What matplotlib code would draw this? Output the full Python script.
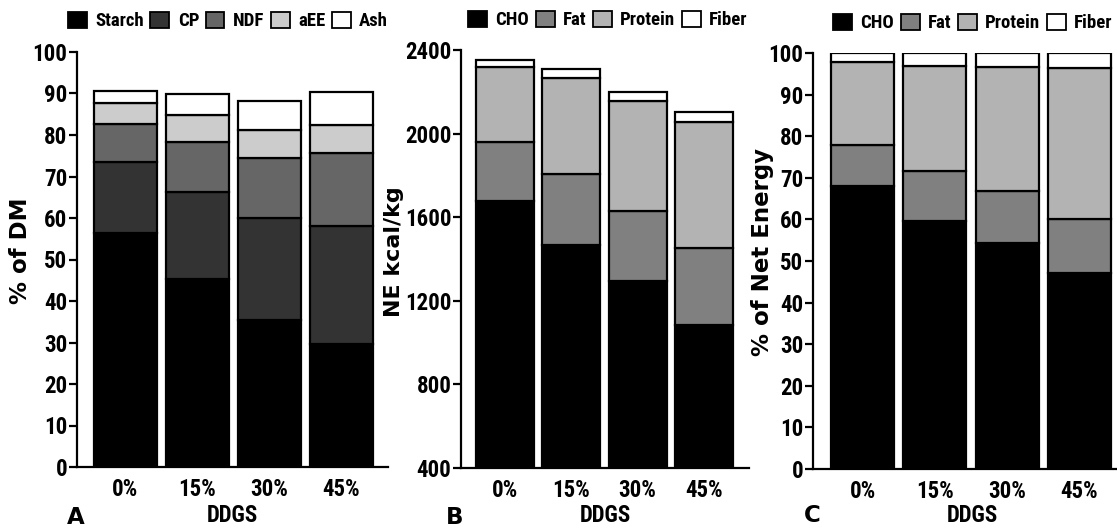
import matplotlib
matplotlib.use("Agg")
import matplotlib.pyplot as plt
from matplotlib.patches import Patch
import numpy as np

# ---------------- data ----------------
groups = ["0%", "15%", "30%", "45%"]
xlabel = "DDGS"

# Panel A: % of DM
a_labels = ["Starch", "CP", "NDF", "aEE", "Ash"]
a_starch = [56.5, 45.3, 35.4, 29.6]
a_cp = [17.0, 21.0, 24.6, 28.5]
a_ndf = [9.1, 12.0, 14.4, 17.5]
a_aee = [5.1, 6.5, 6.8, 6.8]
a_ash = [2.9, 5.1, 7.0, 8.0]
a_ticks = [0, 10, 20, 30, 40, 50, 60, 70, 80, 90, 100]

# Panel B: NE kcal/kg
b_labels = ["CHO", "Fat", "Protein", "Fiber"]
b_cho = [1678, 1467, 1295, 1084]
b_fat = [282, 340, 335, 368]
b_protein = [359, 459, 526, 604]
b_fiber = [33, 43, 43, 49]
b_ticks = [400, 800, 1200, 1600, 2000, 2400]

# Panel C: % of Net Energy
c_labels = ["CHO", "Fat", "Protein", "Fiber"]
c_cho = [68.0, 59.6, 54.4, 47.1]
c_fat = [9.9, 12.0, 12.4, 13.0]
c_protein = [19.9, 25.3, 29.9, 36.2]
c_fiber = [2.1, 3.0, 3.2, 3.6]
c_ticks = [0, 10, 20, 30, 40, 50, 60, 70, 80, 90, 100]

# ---------------- style ----------------
COND = ["Roboto Condensed", "PT Sans Narrow", "DejaVu Sans"]
BOLDF = ["DejaVu Sans"]
W, H = 1117, 528
fig = plt.figure(figsize=(W / 100, H / 100), dpi=100)


def axes_px(left, right, top, bottom):
    return fig.add_axes([left / W, 1 - bottom / H, (right - left) / W, (bottom - top) / H])


def draw_panel(ax, series, labels, colors, ylim, ticks, xlim, leg_bbox, ylab, ylab_xy, ylab_size,
               letter, letter_xy, xlab_x):
    x = np.arange(len(groups))
    bottom = np.zeros(len(groups))
    for vals, lab, col in zip(series, labels, colors):
        ax.bar(x, vals, width=0.875, bottom=bottom, color=col, edgecolor="black",
               linewidth=1.6, label=lab, zorder=2)
        bottom = bottom + np.array(vals, dtype=float)
    ax.set_ylim(*ylim)
    ax.set_xlim(*xlim)
    ax.set_yticks(ticks)
    ax.set_xticks(x)
    ax.set_xticklabels(groups)
    for s in ("top", "right"):
        ax.spines[s].set_visible(False)
    for s in ("left", "bottom"):
        ax.spines[s].set_linewidth(1.6)
    ax.tick_params(axis="y", length=6, width=1.6, pad=1)
    ax.tick_params(axis="x", length=0, pad=8)
    for t in ax.get_yticklabels() + ax.get_xticklabels():
        t.set_family(COND)
        t.set_weight("bold")
        t.set_fontsize(16.5)
    handles = [Patch(facecolor=c, edgecolor="black", linewidth=1.3, label=l) for c, l in zip(colors, labels)]
    fig.legend(handles=handles, loc="center", bbox_to_anchor=(leg_bbox[0] / W, 1 - leg_bbox[1] / H),
               ncol=len(labels), frameon=False, handlelength=1.0, handleheight=1.0,
               handletextpad=0.45, columnspacing=0.35, borderpad=0,
               prop={"family": COND, "weight": "bold", "size": 13.5})
    fig.text(ylab_xy[0] / W, 1 - ylab_xy[1] / H, ylab, rotation=90, ha="center", va="center",
             family=BOLDF, weight="bold", fontsize=ylab_size)
    fig.text(letter_xy[0] / W, 1 - letter_xy[1] / H, letter, ha="center", va="center",
             family=BOLDF, weight="bold", fontsize=16.5)
    fig.text(xlab_x / W, 1 - 515 / H, xlabel, ha="center", va="center",
             family=COND, weight="bold", fontsize=16.5)


axA = axes_px(77, 388, 52, 467)
draw_panel(axA, [a_starch, a_cp, a_ndf, a_aee, a_ash], a_labels,
           ["#000000", "#333333", "#666666", "#cccccc", "#ffffff"],
           (0, 100), a_ticks, (-0.667, 3.65), (228, 21), "% of DM", (21, 251), 16.5,
           "A", (76, 517), 232)

axB = axes_px(461, 749, 50, 468)
draw_panel(axB, [b_cho, b_fat, b_protein, b_fiber], b_labels,
           ["#000000", "#808080", "#b3b3b3", "#ffffff"],
           (400, 2400), b_ticks, (-0.664, 3.68), (608, 20), "NE kcal/kg", (394, 252), 16,
           "B", (455, 517), 605)

axC = axes_px(813, 1117, 53, 469)
draw_panel(axC, [c_cho, c_fat, c_protein, c_fiber], c_labels,
           ["#000000", "#808080", "#b3b3b3", "#ffffff"],
           (0, 100), c_ticks, (-0.686, 3.52), (973, 23), "% of Net Energy", (763, 252), 16.5,
           "C", (812, 516), 972)

fig.savefig("out.png", dpi=100)
